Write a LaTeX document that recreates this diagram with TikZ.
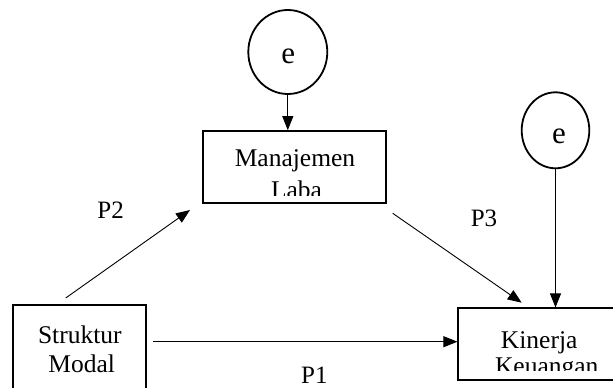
\documentclass[tikz,border=0pt]{standalone}
\usepackage{fontspec}
\setmainfont{Liberation Serif}
\usetikzlibrary{arrows.meta,shapes.geometric}
\begin{document}
\begin{tikzpicture}[x=1pt,y=1pt,
  box/.style={draw, line width=1.8pt, inner sep=0pt},
  errnode/.style={draw, ellipse, line width=1.8pt, inner sep=0pt},
  conn/.style={-{Triangle[length=14pt,width=11pt]}, line width=0.9pt},
  txt/.style={font=\fontsize{25.5}{29}\selectfont, inner sep=0pt, anchor=base},
  etxt/.style={font=\fontsize{31}{36}\selectfont, inner sep=0pt},
  lbl/.style={font=\fontsize{25}{29}\selectfont, inner sep=0pt}]

\useasboundingbox (0,0) rectangle (613,-388);

% variable boxes
\node[box, minimum width=183pt, minimum height=72.3pt] (mj) at (294.2,-167.2) {};
\node[box, minimum width=132.4pt, minimum height=95pt] (sm) at (79.5,-352.5) {};
\node[box, minimum width=171.7pt, minimum height=71.7pt] (kk) at (544.2,-344.2) {};

% error terms
\node[errnode, minimum width=79pt, minimum height=84pt] (e1) at (287.8,-52) {};
\node[errnode, minimum width=67.6pt, minimum height=76pt] (e2) at (555.5,-130.3) {};
\node[etxt] (e1t) at (288.3,-56.7) {e};
\node[etxt] (e2t) at (559,-136.7) {e};

% box texts, cut off at the lower edge of each box
\begin{scope}
  \clip (mj.north west) rectangle ([yshift=8.5pt]mj.south east);
  \node[txt] (mjt1) at (295,-166) {Manajemen};
  \node[txt] (mjt2) at (296.5,-198.5) {Laba};
\end{scope}
\node[txt] (smt1) at (79.8,-343) {Struktur};
\node[txt] (smt2) at (81.7,-372) {Modal};
\begin{scope}
  \clip (kk.north west) rectangle ([yshift=10pt]kk.south east);
  \node[txt] (kkt1) at (539.2,-348.3) {Kinerja};
  \node[txt] (kkt2) at (546.7,-374) {Keuangan};
\end{scope}

% path arrows
\coordinate (p1s) at (153.3,-341.7);
\coordinate (p2s) at (65.7,-298);
\coordinate (p2e) at (190,-210);
\coordinate (p3s) at (392.7,-213.3);
\coordinate (p3e) at (521.7,-302.7);

\draw[conn] (e1.south) -- (e1.south |- mj.north);
\draw[conn] (e2.south) -- (e2.south |- kk.north);
\draw[conn] (p1s) -- (p1s -| kk.west);
\draw[conn] (p2s) -- (p2e);
\draw[conn] (p3s) -- (p3e);

% path labels
\node[lbl] (l1) at (314.3,-375.5) {P1};
\node[lbl] (l2) at (110.7,-210) {P2};
\node[lbl] (l3) at (484,-218.3) {P3};
\end{tikzpicture}
\end{document}
